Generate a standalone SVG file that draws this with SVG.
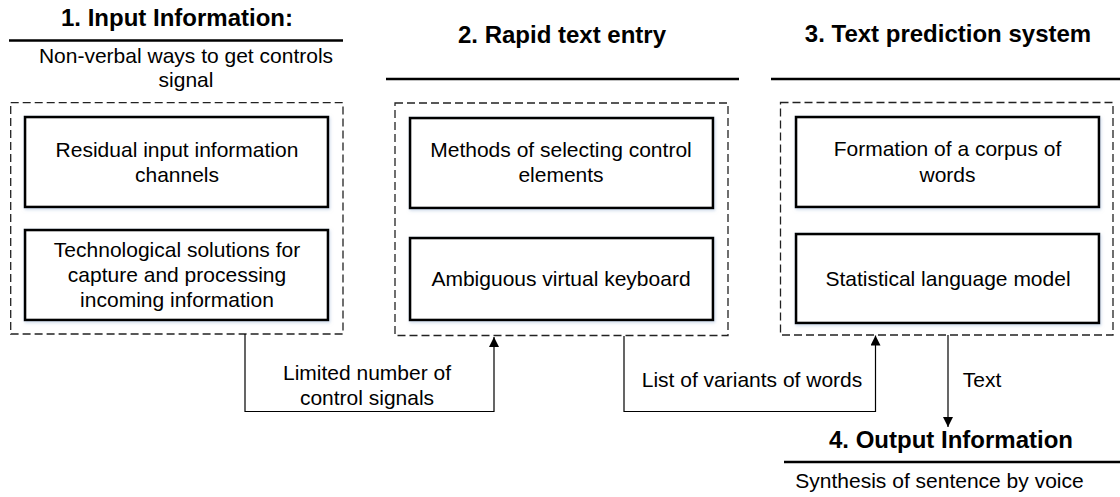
<svg xmlns="http://www.w3.org/2000/svg" width="1120" height="497" viewBox="0 0 1120 497">
<defs>
<style>
text{font-family:"Liberation Sans",Arial,sans-serif;fill:#000}
.t{font-size:21px;text-anchor:middle}
.h{font-size:24px;font-weight:bold;text-anchor:middle}
.box{fill:#fff;stroke:#000;stroke-width:2.6}
.grp{fill:none;stroke:#222;stroke-width:1.3;stroke-dasharray:8 4}
.rule{stroke:#000;stroke-width:2.5}
.con{fill:none;stroke:#000;stroke-width:1.2}
</style>
<marker id="arr" viewBox="0 0 10 10" refX="10" refY="5" markerWidth="10" markerHeight="10" markerUnits="userSpaceOnUse" orient="auto">
<path d="M0,0 L10,5 L0,10 Z" fill="#000"/>
</marker>
<filter id="sh" x="-5%" y="-10%" width="110%" height="120%">
<feDropShadow dx="1" dy="1.5" stdDeviation="1.5" flood-color="#9fb6d6" flood-opacity="0.5"/>
</filter>
</defs>

<g id="section1">
<text class="h" x="177" y="26">1. Input Information:</text>
<line class="rule" x1="9" y1="40.5" x2="343" y2="40.5"/>
<text class="t" x="186" y="63">Non-verbal ways to get controls</text>
<text class="t" x="186" y="87">signal</text>
<rect class="grp" x="10.7" y="102.7" width="332.3" height="231.3"/>
</g>
<g id="node1a">
<rect class="box" filter="url(#sh)" x="25" y="117" width="303" height="90"/>
<text class="t" x="177" y="157">Residual input information</text>
<text class="t" x="177" y="182">channels</text>
</g>
<g id="node1b">
<rect class="box" filter="url(#sh)" x="25" y="230" width="303" height="90"/>
<text class="t" x="177" y="257">Technological solutions for</text>
<text class="t" x="177" y="282">capture and processing</text>
<text class="t" x="177" y="307">incoming information</text>
</g>

<g id="section2">
<text class="h" x="562" y="43">2. Rapid text entry</text>
<line class="rule" x1="386" y1="79" x2="739" y2="79"/>
<rect class="grp" x="395" y="103" width="333" height="232.5"/>
</g>
<g id="node2a">
<rect class="box" filter="url(#sh)" x="410" y="118" width="303" height="90"/>
<text class="t" x="561" y="157">Methods of selecting control</text>
<text class="t" x="561" y="182">elements</text>
</g>
<g id="node2b">
<rect class="box" filter="url(#sh)" x="410" y="238" width="303" height="82"/>
<text class="t" x="561" y="286">Ambiguous virtual keyboard</text>
</g>

<g id="section3">
<text class="h" x="948" y="42">3. Text prediction system</text>
<line class="rule" x1="771" y1="79" x2="1120" y2="79"/>
<rect class="grp" x="780.5" y="102.5" width="332.5" height="232.5"/>
</g>
<g id="node3a">
<rect class="box" filter="url(#sh)" x="796" y="117" width="303" height="90"/>
<text class="t" x="947.5" y="156">Formation of a corpus of</text>
<text class="t" x="947.5" y="182">words</text>
</g>
<g id="node3b">
<rect class="box" filter="url(#sh)" x="796" y="234" width="303" height="89"/>
<text class="t" x="948" y="286">Statistical language model</text>
</g>

<g id="section4">
<text class="h" x="951" y="448">4. Output Information</text>
<line class="rule" x1="784" y1="462" x2="1120" y2="462"/>
<text class="t" x="939.5" y="488">Synthesis of sentence by voice</text>
</g>

<g id="connectors">
<path class="con" d="M245,334 V411.5 H494 V337" marker-end="url(#arr)"/>
<text class="t" x="367" y="380">Limited number of</text>
<text class="t" x="367" y="405">control signals</text>
<path class="con" d="M624,336 V411.5 H875.5 V335.5" marker-end="url(#arr)"/>
<text class="t" x="752" y="387">List of variants of words</text>
<path class="con" d="M948,335 V427" marker-end="url(#arr)"/>
<text class="t" x="982" y="387">Text</text>
</g>
</svg>
